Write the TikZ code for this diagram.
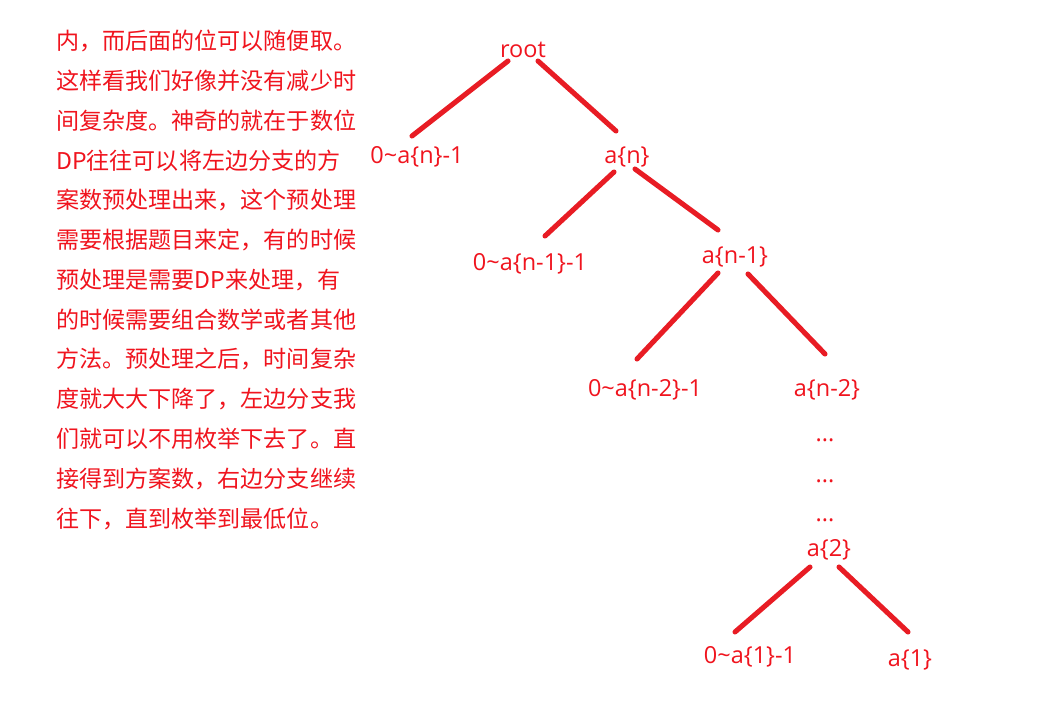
\documentclass[tikz,border=0pt]{standalone}
\usepackage{fontspec}
\newfontfamily\cjk{Noto Sans CJK SC}
\newfontfamily\lat{Open Sans}
\definecolor{txtred}{RGB}{240,20,30}
\definecolor{linered}{RGB}{232,28,36}
\begin{document}
\begin{tikzpicture}[x=0.75pt,y=-0.75pt,
  para/.style={anchor=west,inner sep=0pt,text=txtred,font=\cjk\fontsize{17.3pt}{20pt}\selectfont},
  lab/.style={inner sep=0pt,text=txtred,font=\lat\fontsize{17.6pt}{20pt}\selectfont},
  edge/.style={draw=linered,line width=3.8pt,line cap=round}]
\useasboundingbox (0,0) rectangle (1050,710);
\fill[white] (0,0) rectangle (1050,710);
% paragraph
\foreach \t [count=\i] in {内，而后面的位可以随便取。,这样看我们好像并没有减少时,间复杂度。神奇的就在于数位,DP往往可以将左边分支的方,案数预处理出来，这个预处理,需要根据题目来定，有的时候,预处理是需要DP来处理，有,的时候需要组合数学或者其他,方法。预处理之后，时间复杂,度就大大下降了，左边分支我,们就可以不用枚举下去了。直,接得到方案数，右边分支继续,往下，直到枚举到最低位。}{
  \node[para] (p\i) at (56,{41+39.8*(\i-1)}) {\t};
}
% tree labels
\node[lab] (root) at (523,50) {root};
\node[lab] (l1) at (417,157) {0\textasciitilde a\{n\}-1};
\node[lab] (an) at (627,157) {a\{n\}};
\node[lab] (l2) at (530,264) {0\textasciitilde a\{n-1\}-1};
\node[lab] (an1) at (735,257) {a\{n-1\}};
\node[lab] (l3) at (645,390) {0\textasciitilde a\{n-2\}-1};
\node[lab] (an2) at (827,390) {a\{n-2\}};
\node[lab,anchor=base] (d1) at (825,441) {...};
\node[lab,anchor=base] (d2) at (825,482) {...};
\node[lab,anchor=base] (d3) at (825,521) {...};
\node[lab] (a2) at (829,550) {a\{2\}};
\node[lab] (l4) at (750,657) {0\textasciitilde a\{1\}-1};
\node[lab] (a1) at (910,660) {a\{1\}};
% edge end points
\coordinate (rootL) at (508,61);  \coordinate (l1T) at (412,136);
\coordinate (rootR) at (538,61);  \coordinate (anT) at (616,131);
\coordinate (anL) at (614,172);   \coordinate (l2T) at (545,236);
\coordinate (anR) at (635,169);   \coordinate (an1T) at (718,230);
\coordinate (an1L) at (718,273);  \coordinate (l3T) at (637,359);
\coordinate (an1R) at (748,274);  \coordinate (an2T) at (825,354);
\coordinate (a2L) at (810,567);   \coordinate (l4T) at (735,632);
\coordinate (a2R) at (839,567);   \coordinate (a1T) at (908,632);
\draw[edge] (rootL) -- (l1T);
\draw[edge] (rootR) -- (anT);
\draw[edge] (anL) -- (l2T);
\draw[edge] (anR) -- (an1T);
\draw[edge] (an1L) -- (l3T);
\draw[edge] (an1R) -- (an2T);
\draw[edge] (a2L) -- (l4T);
\draw[edge] (a2R) -- (a1T);
\end{tikzpicture}
\end{document}
